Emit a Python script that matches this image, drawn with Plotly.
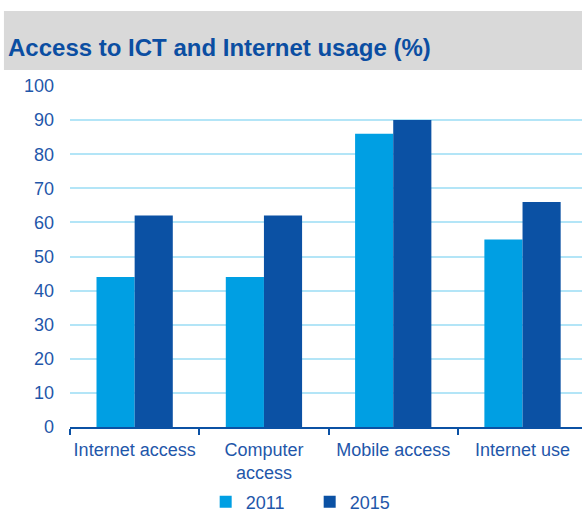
import plotly.graph_objects as go

categories = ["Internet access", "Computer<br>access", "Mobile access", "Internet use"]
years = ["2011", "2015"]
values_2011 = [44, 44, 86, 55]
values_2015 = [62, 62, 90, 66]
y_ticks = [0, 10, 20, 30, 40, 50, 60, 70, 80, 90, 100]

colors = {"2011": "#009FE3", "2015": "#0B51A4"}
text_blue = "#1F57AA"
font_family = "Liberation Sans, Arial, sans-serif"

fig = go.Figure()
for year, vals in zip(years, [values_2011, values_2015]):
    fig.add_trace(go.Bar(
        x=categories, y=vals, name=year,
        marker=dict(color=colors[year], line=dict(width=0)),
    ))

fig.update_layout(
    width=582, height=513,
    margin=dict(l=70, r=0, t=86, b=86),
    paper_bgcolor="white", plot_bgcolor="white",
    barmode="group", bargap=0.41, bargroupgap=0,
    font=dict(family=font_family, size=18, color=text_blue),
    showlegend=True,
    legend=dict(
        orientation="h", x=0.265, xanchor="left",
        yref="container", y=0.0215, yanchor="middle",
        bgcolor="rgba(0,0,0,0)",
        font=dict(size=18, color=text_blue), itemwidth=30,
        entrywidth=59, traceorder="normal",
    ),
    shapes=[dict(
        type="rect", xref="paper", yref="paper",
        x0=-0.129, x1=1.0, y0=1.0469, y1=1.2199,
        fillcolor="#D9D9D9", line=dict(width=0), layer="below",
    )],
    annotations=[dict(
        text="<b>Access to ICT and Internet usage (%)</b>",
        xref="paper", yref="paper", x=-0.125, y=1.114,
        xanchor="left", yanchor="middle", showarrow=False,
        font=dict(family=font_family, size=24, color="#0B4EA2"),
    )],
)

fig.update_xaxes(
    range=[-0.5, 3.46], showgrid=False, automargin=False, tickangle=0,
    showline=True, linecolor="#0B51A4", linewidth=2,
    ticks="outside", tickson="boundaries", ticklen=6, tickcolor="#0B51A4", tickwidth=2,
    ticklabelstandoff=5,
    tickfont=dict(size=18, color=text_blue),
)
fig.update_yaxes(
    range=[0, 100], tickvals=y_ticks, showgrid=True, automargin=False,
    gridcolor="#B3E5F7", gridwidth=1.5, zeroline=False,
    showline=False, ticks="", ticklabelstandoff=15,
    tickfont=dict(size=18, color=text_blue),
)

fig.write_html("out.html")
